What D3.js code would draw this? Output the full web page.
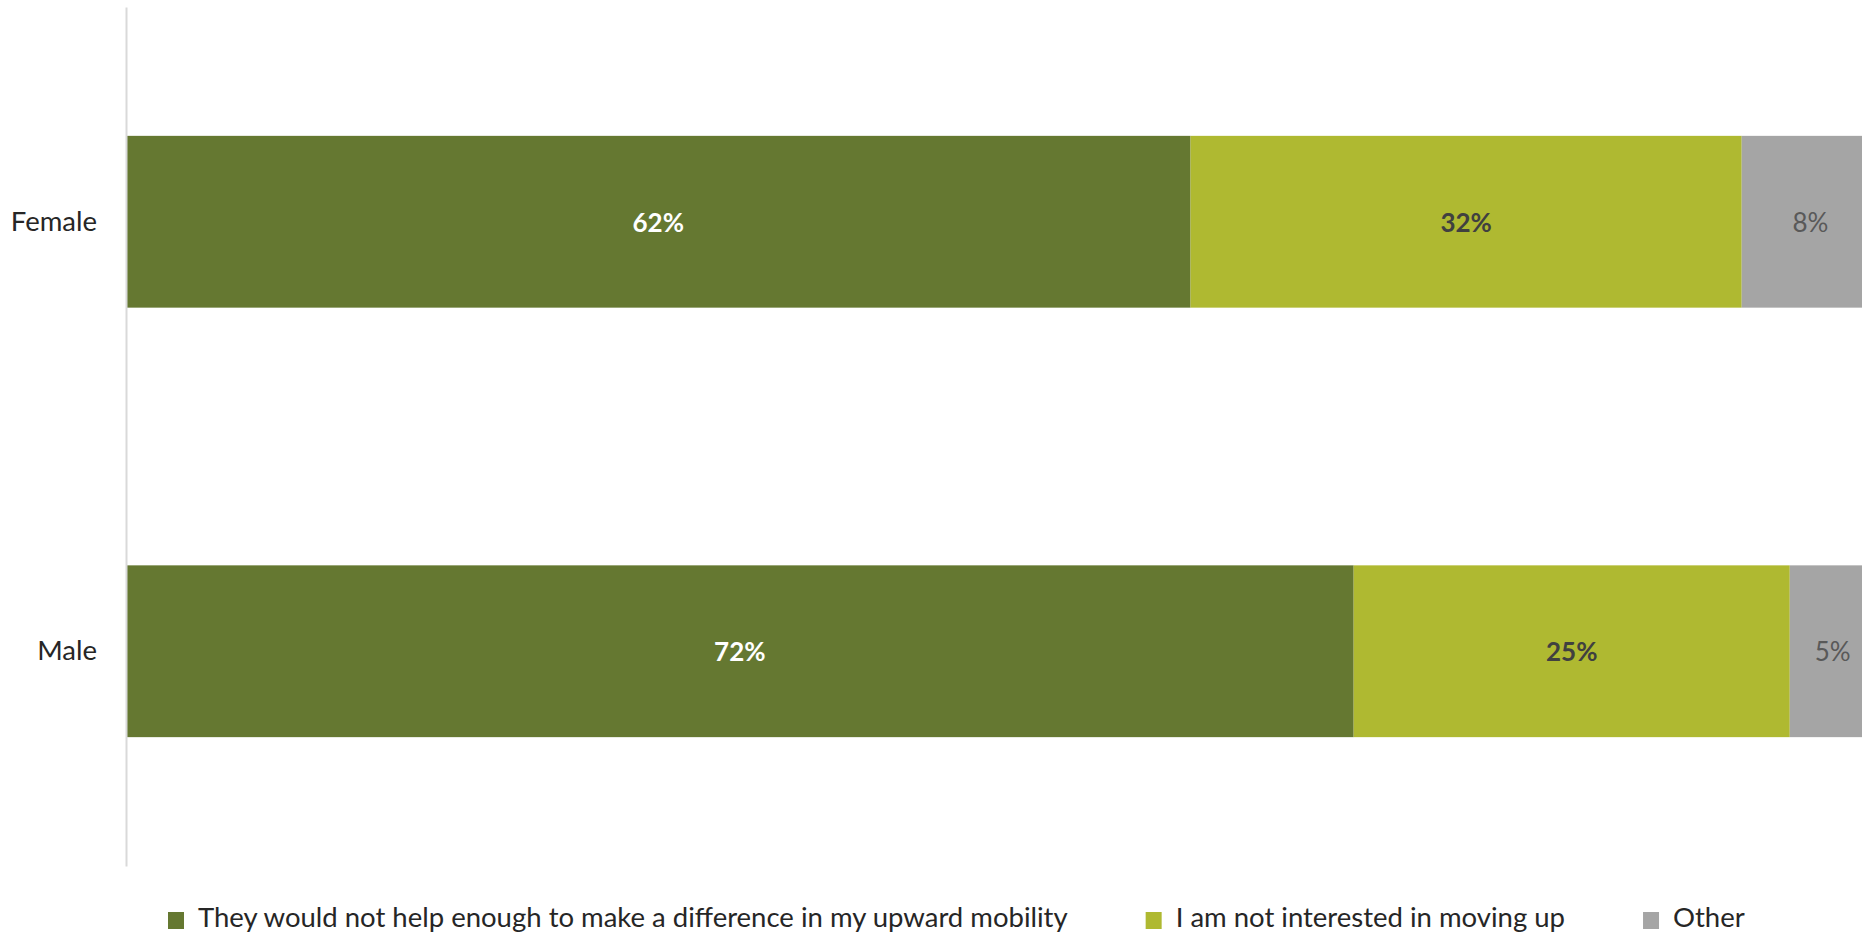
<!DOCTYPE html>
<html>
<head>
<meta charset="utf-8">
<script src="https://cdn.jsdelivr.net/npm/d3@7"></script>
<style>
  html, body { margin: 0; padding: 0; background: #ffffff; }
  svg { display: block; }
  text { font-family: Lato, "Open Sans", sans-serif; }
</style>
</head>
<body>
<svg id="chart" width="1862" height="934"></svg>
<script>
const categories = ["Female", "Male"];
const seriesNames = [
  "They would not help enough to make a difference in my upward mobility",
  "I am not interested in moving up",
  "Other"
];
const helpNotEnough = [62, 71.5];
const notInterested = [32.1, 25.4];
const other = [8, 5];
const seriesValues = [helpNotEnough, notInterested, other];
const colors = ["#657831", "#AFB931", "#A5A5A5"];
const labelColors = ["#FFFFFF", "#404040", "#595959"];
const labelWeights = ["bold", "bold", "normal"];

const svg = d3.select("#chart");

const x = d3.scaleLinear().domain([0, 100]).range([126, 1843]);
const y = d3.scaleBand().domain(categories).range([7, 866]).paddingInner(0.6).paddingOuter(0.3);

const rows = categories.map((c, i) => {
  const o = { cat: c };
  seriesNames.forEach((s, j) => { o[s] = seriesValues[j][i]; });
  return o;
});
const stacked = d3.stack().keys(seriesNames)(rows);

const g = svg.append("g");

stacked.forEach((layer, j) => {
  const lg = g.append("g");
  lg.selectAll("rect").data(layer).join("rect")
    .attr("x", d => x(d[0]))
    .attr("y", d => y(d.data.cat))
    .attr("width", d => x(d[1]) - x(d[0]))
    .attr("height", y.bandwidth())
    .attr("fill", colors[j]);
  lg.selectAll("text").data(layer).join("text")
    .attr("x", d => (x(d[0]) + x(d[1])) / 2)
    .attr("y", d => y(d.data.cat) + y.bandwidth() / 2)
    .attr("text-anchor", "middle")
    .attr("dominant-baseline", "central")
    .attr("font-size", 26)
    .attr("font-weight", labelWeights[j])
    .attr("fill", labelColors[j])
    .text(d => Math.round(d[1] - d[0]) + "%");
});

// y axis
const yAxis = d3.axisLeft(y).tickSize(0).tickPadding(29);
const ya = svg.append("g").attr("transform", `translate(${x(0)},0)`).call(yAxis);
ya.select(".domain").attr("stroke", "#D9D9D9").attr("stroke-width", 2);
ya.selectAll("text").attr("font-size", 27.5).attr("fill", "#262626")
  .attr("font-family", "Lato, 'Open Sans', sans-serif");

// legend
const legend = svg.append("g");
let cx = 168;
seriesNames.forEach((s, j) => {
  const item = legend.append("g").attr("transform", `translate(${cx},0)`);
  item.append("rect").attr("x", 0).attr("y", 912).attr("width", 16).attr("height", 17).attr("fill", colors[j]);
  const t = item.append("text").attr("x", 30).attr("y", 927)
    .attr("font-size", 27.5).attr("fill", "#262626").text(s);
  cx += 30 + t.node().getComputedTextLength() + 78;
});
</script>
</body>
</html>
